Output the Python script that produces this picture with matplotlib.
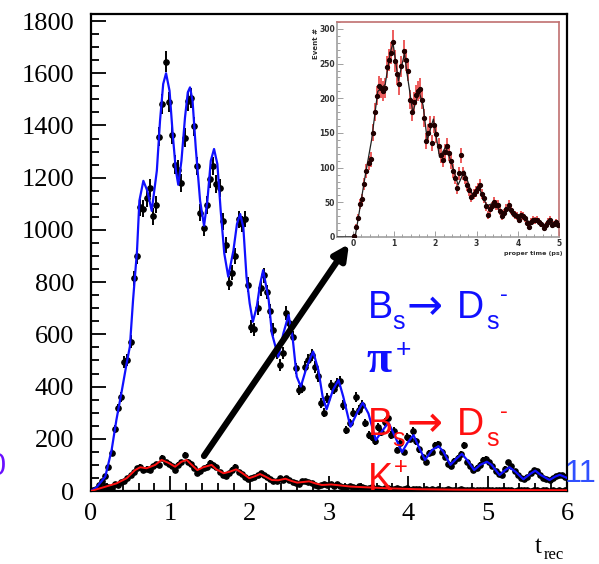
import matplotlib
matplotlib.use("Agg")
import matplotlib.pyplot as plt
import numpy as np
from matplotlib.ticker import MultipleLocator

W, H = 599, 564

# ---- main histogram: Bs -> Ds pi (blue fit) and Bs -> Ds K (red fit)
bin_width = 0.04
dspi_counts = [
    2, 8, 22, 38, 57, 93, 147, 236, 317, 359, 495, 502, 572, 815, 900,
    1087, 1082, 1123, 1161, 1052, 1097, 1357, 1483, 1644, 1491, 1365, 1250,
    1231, 1180, 1353, 1493, 1504, 1397, 1244, 1065, 1008, 1095, 1196, 1244,
    1176, 1161, 1033, 944, 797, 836, 900, 1040, 1023, 1042, 790, 629, 619,
    700, 776, 827, 763, 690, 617, 528, 483, 528, 682, 643, 590, 470, 387,
    394, 475, 502, 521, 475, 440, 337, 299, 356, 406, 390, 414, 420, 330,
    234, 260, 300, 360, 310, 330, 260, 214, 207, 190, 245, 225, 264, 280,
    214, 230, 157, 184, 150, 207, 200, 230, 190, 160, 130, 110, 145, 150,
    175, 180, 150, 130, 105, 95, 115, 128, 140, 175, 110, 95, 82, 90, 100,
    120, 122, 110, 95, 75, 65, 62, 85, 110, 95, 75, 60, 50, 45, 55, 70, 80,
    76, 60, 50, 45, 42, 48, 58, 62, 60, 55,
]
dsk_counts = [
    0, 2, 5, 8, 18, 15, 12, 28, 22, 35, 38, 50, 62, 72, 88, 92, 80, 85, 82,
    95, 102, 98, 128, 110, 103, 95, 82, 100, 110, 138, 112, 104, 90, 70, 78,
    88, 92, 108, 100, 92, 72, 60, 58, 68, 82, 92, 72, 65, 55, 45, 50, 55,
    62, 68, 60, 52, 45, 38, 40, 48, 44, 50, 42, 35, 30, 28, 38, 40, 36, 30,
    24, 20, 22, 28, 24, 27, 20, 25, 18, 14, 16, 20, 15, 12, 18, 14, 10, 12,
    15, 9, 11, 8, 13, 10, 7, 9, 12, 6, 8, 10, 5, 7, 9, 6, 4, 8, 5, 6, 3, 7,
    5, 4, 6, 3, 5, 4, 6, 3, 2, 5, 4, 3, 2, 5, 3, 4, 2, 3, 5, 2, 3, 4, 2, 1,
    3, 2, 4, 2, 1, 3, 2, 1, 2, 3, 1, 2, 1, 2, 1, 2,
]

# fitted curves
dspi_fit_t = [
    0.00, 0.07, 0.18, 0.26, 0.32, 0.39, 0.45, 0.49, 0.53, 0.58, 0.61, 0.66,
    0.71, 0.765, 0.83, 0.87, 0.91, 0.946, 0.99, 1.03, 1.07, 1.10, 1.14,
    1.185, 1.22, 1.248, 1.28, 1.32, 1.375, 1.425, 1.467, 1.51, 1.551, 1.593,
    1.635, 1.68, 1.73, 1.795, 1.84, 1.88, 1.92, 1.96, 2.00, 2.04, 2.09, 2.13,
    2.17, 2.24, 2.28, 2.36, 2.425, 2.49, 2.54, 2.593, 2.645, 2.72, 2.80,
    2.866, 2.92, 2.97, 3.05, 3.12, 3.18, 3.27, 3.35, 3.425, 3.497, 3.59,
    3.67, 3.75, 3.83, 3.92, 3.99, 4.065, 4.15, 4.21, 4.30, 4.38, 4.44, 4.53,
    4.61, 4.675, 4.74, 4.83, 4.905, 4.99, 5.05, 5.15, 5.22, 5.275, 5.35,
    5.45, 5.535, 5.60, 5.67, 5.78, 5.85, 5.91, 6.00,
]
dspi_fit_y = [
    0, 14, 55, 157, 272, 387, 490, 553, 731, 920, 1112, 1188, 1150, 1073,
    1227, 1418, 1559, 1600, 1533, 1367, 1227, 1173, 1265, 1431, 1527, 1546,
    1495, 1316, 1112, 1016, 1112, 1265, 1310, 1252, 1073, 910, 821, 921,
    1023, 1061, 1010, 821, 719, 648, 706, 790, 846, 731, 604, 514, 604, 674,
    591, 438, 400, 476, 534, 463, 361, 313, 387, 425, 361, 246, 297, 338,
    297, 195, 230, 262, 210, 149, 185, 214, 157, 119, 157, 172, 151, 100,
    125, 142, 119, 80, 100, 112, 100, 61, 80, 91, 74, 45, 65, 78, 61, 42,
    55, 62, 50,
]
dsk_fit_t = [
    0.00, 0.155, 0.32, 0.45, 0.555, 0.62, 0.70, 0.81, 0.89, 0.975, 1.06,
    1.14, 1.205, 1.27, 1.34, 1.415, 1.52, 1.58, 1.67, 1.75, 1.83, 1.90,
    1.995, 2.07, 2.13, 2.20, 2.28, 2.36, 2.45, 2.53, 2.60, 2.66, 2.75, 2.83,
    2.91, 3.03, 3.27, 3.48, 3.77, 4.10, 4.60, 5.20, 6.00,
]
dsk_fit_y = [
    0, 14, 29, 49, 80, 91, 87, 100, 119, 108, 93, 112, 119, 100, 80, 91,
    100, 83, 68, 74, 83, 70, 49, 57, 65, 55, 42, 41, 47, 38, 32, 34, 37, 29,
    23, 25, 17, 14, 10, 7, 5, 4, 3,
]

# ---- inset: proper time distribution
inset_width = 0.05
inset_counts = [
    2, 15, 28, 48, 55, 76, 95, 107, 112, 150, 180, 204, 218, 215, 210, 215,
    245, 255, 265, 281, 254, 235, 220, 246, 268, 255, 240, 198, 180, 195,
    205, 210, 214, 198, 171, 138, 150, 162, 135, 162, 148, 131, 118, 111,
    123, 131, 121, 109, 95, 85, 70, 92, 118, 92, 85, 75, 68, 58, 62, 66, 70,
    75, 62, 56, 44, 32, 40, 44, 51, 46, 46, 38, 30, 34, 41, 46, 39, 34, 32,
    30, 25, 32, 30, 27, 20, 15, 22, 25, 24, 25, 22, 19, 13, 18, 22, 25, 18,
    19, 21, 17,
]
inset_fit_t = [
    -0.40, 0.05, 0.12, 0.30, 0.45, 0.60, 0.70, 0.78, 0.90, 0.97, 1.10, 1.25,
    1.30, 1.45, 1.60, 1.70, 1.80, 1.95, 2.10, 2.25, 2.40, 2.55, 2.70, 2.90,
    3.05, 3.25, 3.45, 3.60, 3.80, 4.00, 4.20, 4.30, 4.50, 4.65, 4.80, 5.00,
]
inset_fit_y = [
    0, 0, 25, 90, 140, 210, 215, 220, 265, 280, 225, 265, 240, 180, 210,
    190, 140, 170, 115, 130, 105, 75, 95, 60, 72, 45, 50, 32, 42, 28, 28,
    18, 25, 15, 22, 15,
]

blue = "#1010ff"
red = "#ff1010"


def fpos(x, y):
    """image pixel (origin top-left) -> figure fraction"""
    return x / W, 1 - y / H


fig = plt.figure(figsize=(W / 100, H / 100), dpi=100)
ax = fig.add_axes([91 / W, 1 - 491 / H, (567 - 91) / W, (491 - 14) / H])

dspi_counts = np.array(dspi_counts, dtype=float)
dsk_counts = np.array(dsk_counts, dtype=float)
t_pi = bin_width * (np.arange(len(dspi_counts)) + 0.5)
t_k = bin_width * (np.arange(len(dsk_counts)) + 0.5)

ax.errorbar(t_pi, dspi_counts, yerr=np.sqrt(dspi_counts), fmt="o", ms=3.8,
            color="black", elinewidth=1.4, capsize=0, zorder=2)
ax.errorbar(t_k, dsk_counts, yerr=np.sqrt(dsk_counts), fmt="o", ms=3.8,
            color="black", elinewidth=1.4, capsize=0, zorder=2)
ax.plot(dspi_fit_t, dspi_fit_y, color=blue, lw=1.6, zorder=3)
ax.plot(dsk_fit_t, dsk_fit_y, color=red, lw=1.4, zorder=3)

ax.set_xlim(0, 6)
ax.set_ylim(0, 1827)
ax.set_xticks(range(0, 7))
ax.set_yticks(range(0, 1801, 200))
ax.xaxis.set_minor_locator(MultipleLocator(0.2))
ax.yaxis.set_minor_locator(MultipleLocator(50))
ax.tick_params(which="both", direction="in", top=False, right=False,
               width=1.3, labelsize=19)
ax.tick_params(which="major", length=11)
ax.tick_params(which="minor", length=6)
ax.tick_params(axis="y", pad=12)
ax.tick_params(axis="x", pad=9)
for lab in ax.get_xticklabels() + ax.get_yticklabels():
    lab.set_family("Liberation Serif")
for sp in ax.spines.values():
    sp.set_linewidth(1.6)

# x label t_rec
fig.text(*fpos(535, 553), "t", family="Liberation Serif", fontsize=18,
         va="baseline")
fig.text(*fpos(544, 559), "rec", family="Liberation Serif", fontsize=12,
         va="baseline")

# ---- inset
iax = fig.add_axes([337 / W, 1 - 237 / H, (559 - 337) / W, (237 - 22) / H])
inset_counts = np.array(inset_counts, dtype=float)
t_in = inset_width * (np.arange(len(inset_counts)) + 0.5)
iax.errorbar(t_in, inset_counts, yerr=np.sqrt(inset_counts), fmt="none",
             ecolor="#e83030", elinewidth=1.1, capsize=0, zorder=2)
iax.plot(inset_fit_t, inset_fit_y, color="#202020", lw=0.9, zorder=3)
iax.plot(t_in, inset_counts, "o", ms=2.8, color="#200000", zorder=4)
iax.set_xlim(-0.39, 5)
iax.set_ylim(0, 310)
iax.set_xticks(range(0, 6))
iax.set_yticks(range(0, 301, 50))
iax.xaxis.set_minor_locator(MultipleLocator(0.2))
iax.yaxis.set_minor_locator(MultipleLocator(10))
iax.tick_params(which="both", direction="in", top=False, right=False,
                width=0.6, color="#909090", labelsize=5.5, pad=1.5)
iax.tick_params(which="major", length=4)
iax.tick_params(which="minor", length=2)
for lab in iax.get_xticklabels() + iax.get_yticklabels():
    lab.set_fontweight("bold")
    lab.set_color("#303030")
for sp in iax.spines.values():
    sp.set_color("#c07070")
    sp.set_linewidth(1.2)
iax.spines["left"].set_color("#a0a0a0")
iax.spines["bottom"].set_color("#a0a0a0")
fig.text(*fpos(562, 255), "proper time (ps)", fontsize=4.6, ha="right",
         va="baseline", color="#303030", fontweight="bold")
fig.text(*fpos(316, 28), "Event #", fontsize=5, rotation=90, ha="center",
         va="top", color="#303030", fontweight="bold")

# ---- arrow from Ds K bump to the inset
ax.annotate("", xy=(349, H - 244), xytext=(204, H - 456),
            xycoords="figure pixels", textcoords="figure pixels",
            arrowprops=dict(arrowstyle="-|>", lw=4.5, color="black",
                            mutation_scale=22, shrinkA=0, shrinkB=0),
            zorder=5)

# ---- decay labels, laid out piece by piece like the slide
sans = "Liberation Sans"


def decay_line(y_base, color):
    fig.text(*fpos(368, y_base), "B", color=color, fontsize=27,
             family=sans, va="baseline")
    fig.text(*fpos(392, y_base + 11), "s", color=color, fontsize=18,
             family=sans, va="baseline")
    fig.text(*fpos(407, y_base + 1), "→", color=color, fontsize=31,
             family="DejaVu Sans", va="baseline")
    fig.text(*fpos(457, y_base), "D", color=color, fontsize=27,
             family=sans, va="baseline")
    fig.text(*fpos(486, y_base + 11), "s", color=color, fontsize=18,
             family=sans, va="baseline")
    fig.text(*fpos(500, y_base - 17), "-", color=color, fontsize=17,
             family=sans, va="baseline")


decay_line(318, blue)
fig.text(*fpos(366, 372), "π", color=blue, fontsize=33,
         family="Liberation Serif", fontweight="bold", va="baseline")
fig.text(*fpos(396, 357), "+", color=blue, fontsize=19, family=sans,
         va="baseline")
decay_line(435, red)
fig.text(*fpos(368, 490), "K", color=red, fontsize=27, family=sans,
         va="baseline")
fig.text(*fpos(394, 474), "+", color=red, fontsize=17, family=sans,
         va="baseline")

fig.text(*fpos(565, 482), "11", color="#3050ff", fontsize=22, family=sans,
         va="baseline")
fig.text(*fpos(6, 475), "0", color="#6a10ff", fontsize=22, family=sans,
         va="baseline", ha="right")

fig.savefig("out.png", dpi=100)
